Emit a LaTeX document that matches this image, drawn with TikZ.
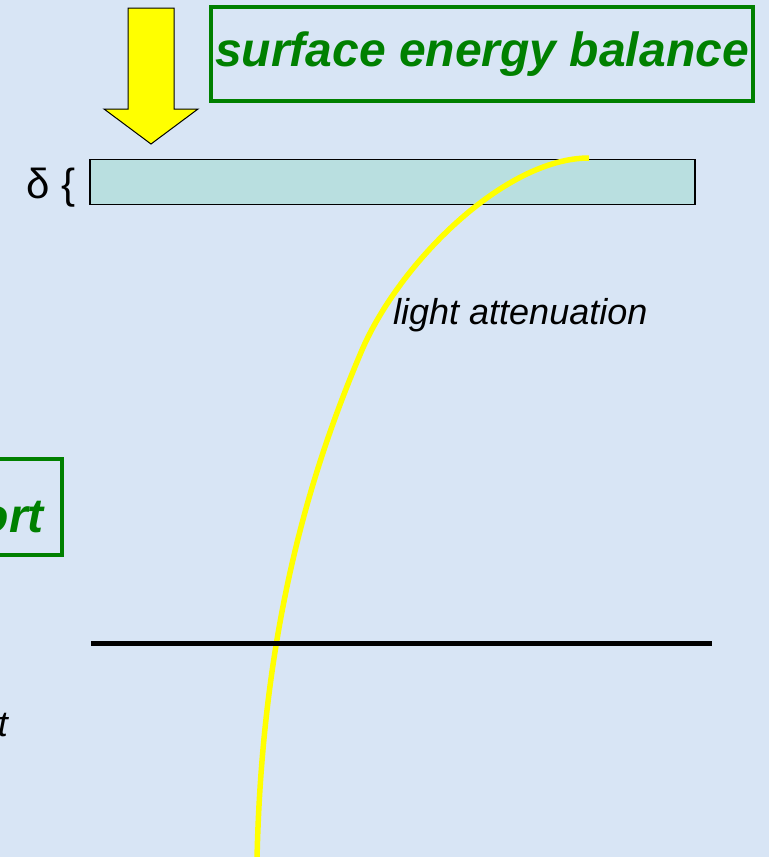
\documentclass[tikz,border=0pt]{standalone}
\usepackage{fontspec}
\setmainfont{Liberation Sans}
\definecolor{bgblue}{RGB}{216,229,245}
\definecolor{boxgreen}{RGB}{0,128,0}
\definecolor{layerfill}{RGB}{185,223,224}
\definecolor{sunyellow}{RGB}{255,255,0}
\tikzset{
  greenbox/.style={draw=boxgreen, line width=4pt, text=boxgreen, inner sep=0pt,
    font=\fontsize{48}{56}\selectfont\bfseries\itshape},
  greentext/.style={text=boxgreen, inner sep=0pt, font=\fontsize{48}{56}\selectfont\bfseries\itshape},
  layerbox/.style={draw=black, line width=1.5pt, fill=layerfill, inner sep=0pt},
  labeltext/.style={inner sep=0pt, font=\fontsize{36}{42}\selectfont\itshape},
  plaintext/.style={inner sep=0pt, font=\fontsize{42}{48}\selectfont},
  lightcurve/.style={draw=sunyellow, line width=5.5pt},
  sunarrow/.style={draw=black, line width=1pt, fill=sunyellow, line join=miter}
}
\begin{document}
\begin{tikzpicture}[x=1pt,y=-1pt]
\useasboundingbox (0,0) rectangle (769,857);
\clip (0,0) rectangle (769,857);
\fill[bgblue] (0,0) rectangle (769,857);

% incoming energy arrow
\draw[sunarrow] (128,8) -- (174,8) -- (174,109) -- (198,109) -- (151,144) -- (104,109) -- (128,109) -- cycle;

% surface energy balance box
\node[greenbox, minimum width=542pt, minimum height=94pt] (seb) at (482,54) {surface energy balance};

% surface layer
\node[layerbox, minimum width=605pt, minimum height=45pt] (layer) at (392.5,182) {};
\node[plaintext, anchor=base east] (delta) at (76,198) {δ \{};

% light attenuation curve
\coordinate (ctop) at (589,158);
\coordinate (cmid) at (362,350);
\coordinate (cbot) at (257,860);
\draw[lightcurve] (ctop) .. controls (505,158) and (400,262) .. (cmid)
                        .. controls (315,460) and (262,620) .. (cbot);
\node[labeltext, anchor=base west] (light) at (393,324) {light attenuation};

% left (cut) transport box
\draw[draw=boxgreen, line width=4pt] (-10,459) rectangle (62,555);
\node[greentext, anchor=base east] (ort) at (44,532) {ort};

% black boundary line
\coordinate (lineL) at (91,643);
\coordinate (lineR) at (712,643);
\draw[line width=5pt] (lineL) -- (lineR);

% cut label
\node[labeltext, anchor=base east] (tlab) at (8,736) {t};
\end{tikzpicture}
\end{document}
